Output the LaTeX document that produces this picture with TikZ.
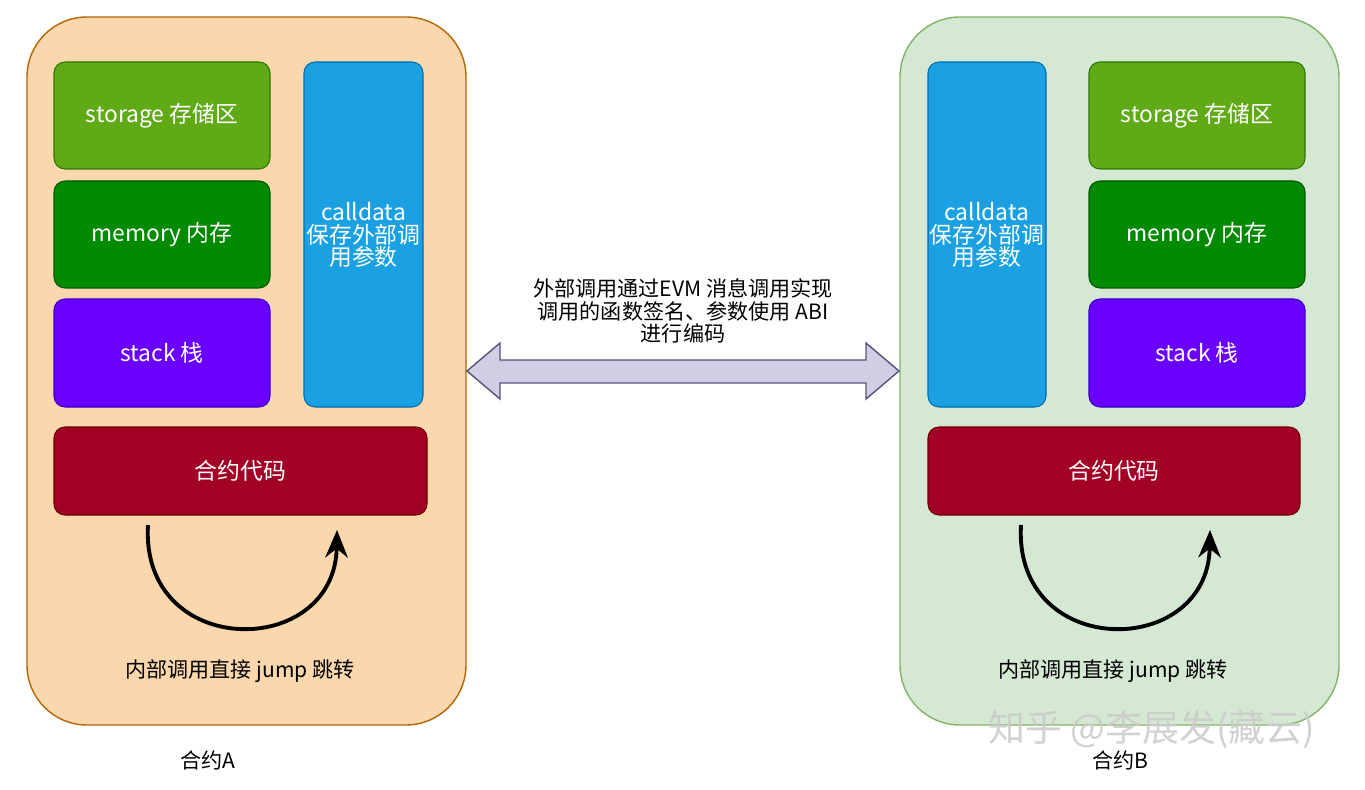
\documentclass[tikz,border=0pt]{standalone}
\usepackage{fontspec}
\setmainfont{Noto Sans CJK SC}
\usetikzlibrary{shapes.arrows,arrows.meta}
\definecolor{orf}{HTML}{FAD7AC}\definecolor{ors}{HTML}{B46504}
\definecolor{grf}{HTML}{D5E8D4}\definecolor{grs}{HTML}{82B366}
\definecolor{c1}{HTML}{60A917}\definecolor{c1s}{HTML}{2D7600}
\definecolor{c2}{HTML}{008A00}\definecolor{c2s}{HTML}{005700}
\definecolor{c3}{HTML}{6A00FF}\definecolor{c3s}{HTML}{3700CC}
\definecolor{c4}{HTML}{1BA1E2}\definecolor{c4s}{HTML}{006EAF}
\definecolor{c5}{HTML}{A20025}\definecolor{c5s}{HTML}{6F0000}
\definecolor{arf}{HTML}{D0CEE2}\definecolor{ars}{HTML}{56517E}
\begin{document}
\begin{tikzpicture}[x=0.02cm,y=-0.02cm,
  cont/.style={rounded corners=1.2cm,line width=0.8pt},
  blk/.style={rounded corners=0.22cm,line width=0.6pt,font=\fontsize{13}{16}\selectfont,text=white,align=center},
  lbl/.style={font=\fontsize{12}{15}\selectfont,align=center}]
\useasboundingbox (0,0) rectangle (1365,790);
\def\bx#1#2#3#4#5#6#7{\draw[blk,fill=#1,draw=#2] (#3,#4) rectangle (#5,#6) node[midway] {#7};}
% containers
\draw[cont,fill=orf,draw=ors] (27,17) rectangle (466,725);
\draw[cont,fill=grf,draw=grs] (900,17) rectangle (1339,725);
% left
\bx{c1}{c1s}{54}{62}{270}{169}{storage 存储区}
\bx{c2}{c2s}{54}{181}{270}{288}{memory 内存}
\bx{c3}{c3s}{54}{299}{270}{407}{stack 栈}
\draw[blk,fill=c4,draw=c4s] (304,62) rectangle (423,407);
\node[blk] at (363.5,235) {calldata\\[-3pt]保存外部调\\[-3pt]用参数};
\bx{c5}{c5s}{54}{427}{427}{515}{合约代码}
% right
\draw[blk,fill=c4,draw=c4s] (928,62) rectangle (1046,407);
\node[blk] at (987,235) {calldata\\[-3pt]保存外部调\\[-3pt]用参数};
\bx{c1}{c1s}{1089}{62}{1305}{169}{storage 存储区}
\bx{c2}{c2s}{1089}{181}{1305}{288}{memory 内存}
\bx{c3}{c3s}{1089}{299}{1305}{407}{stack 栈}
\bx{c5}{c5s}{928}{427}{1300}{515}{合约代码}
% double arrow
\draw[fill=arf,draw=ars,line width=0.8pt] (467,371) -- (500,343) -- (500,360) -- (866,360) -- (866,343) -- (899,371) -- (866,399) -- (866,383) -- (500,383) -- (500,399) -- cycle;
\node[lbl] at (683,311) {外部调用通过EVM 消息调用实现\\[-2pt]调用的函数签名、参数使用 ABI\\[-2pt]进行编码};
% curves
\draw[line width=2.2pt,-{Stealth[length=0.55cm,width=0.45cm]}] (148,525) .. controls (140,660) and (335,660) .. (337,530);
\draw[line width=2.2pt,-{Stealth[length=0.55cm,width=0.45cm]}] (1021,525) .. controls (1013,660) and (1208,660) .. (1210,530);
\node[lbl] (ja) at (240,671) {内部调用直接 jump 跳转};
\node[lbl] (jb) at (1113,671) {内部调用直接 jump 跳转};
\node[lbl] at (208,760) {合约A};
\node[lbl] at (1120,760) {合约B};
\node[font=\fontsize{21}{24}\selectfont,text=gray!40,opacity=0.9] at (1152,730) {知乎 @李展发(藏云)};
\end{tikzpicture}
\end{document}
